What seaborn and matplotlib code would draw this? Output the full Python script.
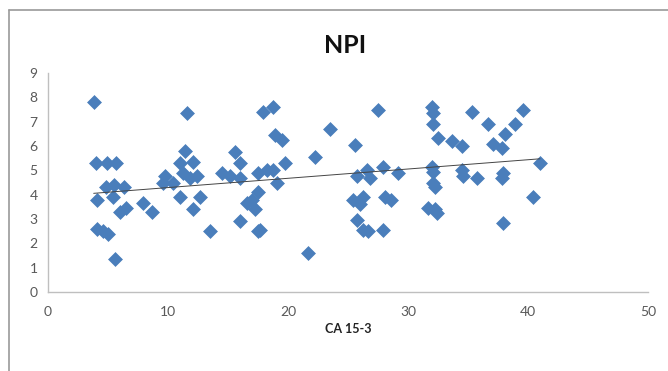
import numpy as np
import pandas as pd
import matplotlib
matplotlib.use("Agg")
import matplotlib.pyplot as plt
import seaborn as sns
from matplotlib.lines import Line2D

# CA 15-3 values and matching NPI values
ca153 = [3.8, 4.0, 4.9, 5.7, 4.1, 4.8, 5.5, 5.4, 6.3, 6.0, 6.5, 4.1, 4.6, 5.0, 5.6,
         7.9, 8.7,
         11.6, 11.4, 11.0, 12.1, 9.75, 9.6, 10.4, 11.25, 11.8, 12.4, 11.0, 12.7, 12.1, 13.5,
         14.5, 15.6, 16.0, 15.2, 16.0, 17.5, 17.0, 17.25, 16.0, 17.5, 17.9, 17.5, 16.6,
         18.75, 18.9, 19.5, 18.75, 19.75, 19.1, 18.25, 17.7,
         22.25, 23.5, 21.7, 25.6, 26.6, 25.75, 26.8, 27.5, 27.9, 25.4, 26.25, 26.0, 25.75,
         26.25, 26.7, 27.9, 28.1, 29.2, 28.6,
         32.0, 32.1, 32.1, 32.5, 32.0, 32.1, 32.1, 32.25, 31.7, 32.25, 32.4,
         33.7, 34.5, 34.5, 34.6, 35.3, 35.75, 36.7, 37.1, 38.1, 37.8, 37.9, 37.8, 37.9,
         38.9, 39.6, 40.4, 41.0]
npi = [7.8, 5.3, 5.3, 5.3, 3.8, 4.3, 4.4, 3.9, 4.3, 3.3, 3.45, 2.6, 2.5, 2.4, 1.35,
       3.65, 3.3,
       7.35, 5.8, 5.3, 5.35, 4.75, 4.5, 4.5, 4.9, 4.7, 4.75, 3.9, 3.9, 3.4, 2.5,
       4.9, 5.75, 5.3, 4.75, 4.7, 4.9, 3.8, 3.4, 2.9, 2.5, 7.4, 4.1, 3.65,
       7.6, 6.45, 6.25, 5.0, 5.3, 4.5, 5.0, 2.55,
       5.55, 6.7, 1.6, 6.05, 5.0, 4.75, 4.7, 7.5, 5.15, 3.8, 3.9, 3.6, 2.95,
       2.55, 2.5, 2.55, 3.9, 4.9, 3.8,
       7.6, 7.35, 6.9, 6.35, 5.15, 4.95, 4.5, 4.3, 3.45, 3.4, 3.25,
       6.2, 6.0, 5.0, 4.75, 7.4, 4.7, 6.9, 6.1, 6.5, 5.9, 4.9, 4.7, 2.85,
       6.9, 7.5, 3.9, 5.3]

x_ticks = [0, 10, 20, 30, 40, 50]
y_ticks = [0, 1, 2, 3, 4, 5, 6, 7, 8, 9]

df = pd.DataFrame({"CA 15-3": ca153, "NPI": npi})

sns.set_style("white")
plt.rcParams['font.family'] = ['Lato', 'DejaVu Sans']

fig = plt.figure(figsize=(6.68, 3.71), dpi=100)
ax = fig.add_axes([0.072, 0.213, 0.898, 0.590])

# outer chart frame: only the left and top edges show in the picture
fig.lines.append(Line2D([0.0135, 0.0135], [0.0, 0.973], transform=fig.transFigure,
                        color="#9a9a9a", linewidth=1.2))
fig.lines.append(Line2D([0.0135, 1.0], [0.973, 0.973], transform=fig.transFigure,
                        color="#9a9a9a", linewidth=1.2))

sns.scatterplot(data=df, x="CA 15-3", y="NPI", marker="D", s=50, color="#4A7EBB",
                edgecolor="#4A7EBB", linewidth=0.5, ax=ax)
sns.regplot(data=df, x="CA 15-3", y="NPI", scatter=False, ci=None, truncate=True,
            line_kws={"color": "#444444", "linewidth": 0.7}, ax=ax)

ax.set_xlim(0, 50)
ax.set_ylim(0, 9)
ax.set_xticks(x_ticks)
ax.set_yticks(y_ticks)
for side in ["top", "right"]:
    ax.spines[side].set_visible(False)
for side in ["left", "bottom"]:
    ax.spines[side].set_color("#bfbfbf")
    ax.spines[side].set_linewidth(1.0)
ax.tick_params(axis="both", colors="#bfbfbf", length=4, width=1, direction="out",
               labelcolor="#595959", labelsize=10)
ax.tick_params(axis="x", pad=6)

ax.set_xlabel("CA 15-3", fontsize=9, fontweight="bold", color="#222222", labelpad=4)
ax.set_ylabel("")
fig.text(0.517, 0.878, "NPI", ha="center", va="center", fontsize=18,
         fontweight="bold", color="#111111")

fig.savefig("out.png", dpi=100)
